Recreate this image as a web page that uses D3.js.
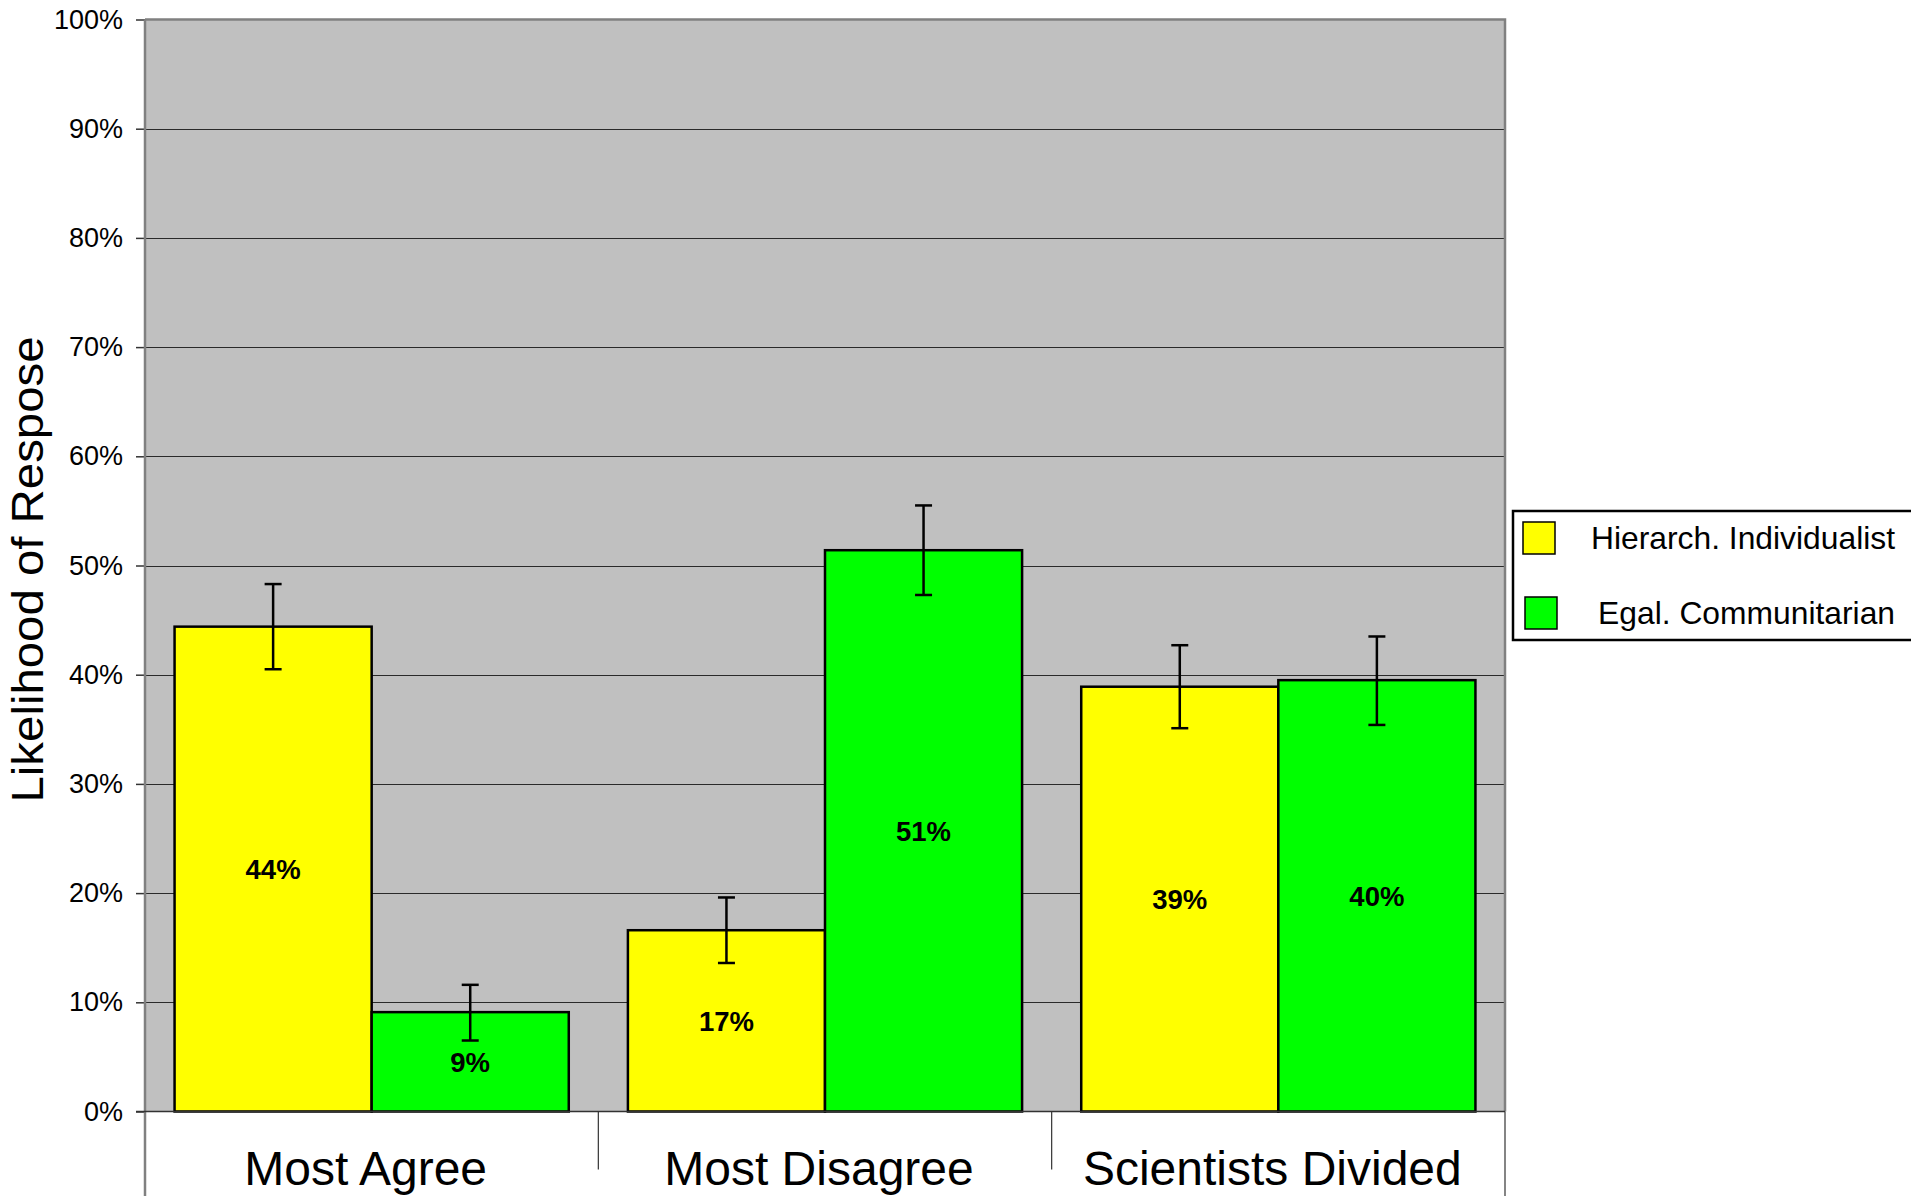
<!DOCTYPE html>
<html>
<head>
<meta charset="utf-8">
<script src="https://cdn.jsdelivr.net/npm/d3@7"></script>
<style>
  html, body { margin: 0; padding: 0; background: #fff; }
  svg { display: block; font-family: "Liberation Sans", Arial, sans-serif; }
</style>
</head>
<body>
<svg id="chart" width="1911" height="1196"></svg>
<script>
// ---- data ----
const categories = ["Most Agree", "Most Disagree", "Scientists Divided"];
const seriesNames = ["Hierarch. Individualist", "Egal. Communitarian"];
const hierValues = [44.4, 16.6, 38.9];
const egalValues = [9.1, 51.4, 39.5];
const hierErrLow = [40.5, 13.6, 35.1];
const hierErrHigh = [48.3, 19.6, 42.7];
const egalErrLow = [6.5, 47.3, 35.4];
const egalErrHigh = [11.6, 55.5, 43.5];
const yTicks = [0, 10, 20, 30, 40, 50, 60, 70, 80, 90, 100];
const seriesColors = ["#FFFF00", "#00FF00"];
const yTitle = "Likelihood of Respose";

// ---- layout ----
const svg = d3.select("#chart");
const plot = { left: 145, right: 1505, top: 19.5, bottom: 1111.5 };

const x0 = d3.scaleBand().domain(categories).range([plot.left, plot.right]).paddingInner(0).paddingOuter(0);
const x1 = d3.scaleBand().domain(seriesNames).range([0, x0.bandwidth()]).paddingInner(0).paddingOuter(0.15);
const y = d3.scaleLinear().domain([0, 100]).range([plot.bottom, plot.top]);

// background
svg.append("rect")
  .attr("x", plot.left).attr("y", plot.top)
  .attr("width", plot.right - plot.left).attr("height", plot.bottom - plot.top)
  .attr("fill", "#C0C0C0");

// gridlines
svg.append("g").selectAll("line").data(yTicks.filter(t => t > 0 && t < 100)).join("line")
  .attr("x1", plot.left).attr("x2", plot.right)
  .attr("y1", d => Math.round(y(d)) + 0.5).attr("y2", d => Math.round(y(d)) + 0.5)
  .attr("stroke", "#2a2a2a").attr("stroke-width", 1.2);

// plot top & right border
svg.append("path")
  .attr("d", `M${plot.left},${plot.top}H${plot.right}V${plot.bottom}`)
  .attr("fill", "none").attr("stroke", "#808080").attr("stroke-width", 2.5);

// data rows
const rows = categories.map((c, i) => ({
  cat: c,
  vals: [
    { s: seriesNames[0], v: hierValues[i], lo: hierErrLow[i], hi: hierErrHigh[i], color: seriesColors[0] },
    { s: seriesNames[1], v: egalValues[i], lo: egalErrLow[i], hi: egalErrHigh[i], color: seriesColors[1] }
  ]
}));

const groups = svg.append("g").selectAll("g").data(rows).join("g")
  .attr("transform", d => `translate(${x0(d.cat)},0)`);

groups.selectAll("rect").data(d => d.vals).join("rect")
  .attr("x", d => x1(d.s))
  .attr("y", d => y(d.v))
  .attr("width", x1.bandwidth())
  .attr("height", d => y(0) - y(d.v))
  .attr("fill", d => d.color)
  .attr("stroke", "#000").attr("stroke-width", 2.5);

// error bars
const capW = 17;
const eb = groups.selectAll("g.err").data(d => d.vals).join("g").attr("class", "err");
eb.append("line")
  .attr("x1", d => x1(d.s) + x1.bandwidth() / 2).attr("x2", d => x1(d.s) + x1.bandwidth() / 2)
  .attr("y1", d => y(d.hi)).attr("y2", d => y(d.lo))
  .attr("stroke", "#000").attr("stroke-width", 2.5);
eb.selectAll("line.cap").data(d => [{ s: d.s, v: d.hi }, { s: d.s, v: d.lo }]).join("line")
  .attr("class", "cap")
  .attr("x1", d => x1(d.s) + x1.bandwidth() / 2 - capW / 2)
  .attr("x2", d => x1(d.s) + x1.bandwidth() / 2 + capW / 2)
  .attr("y1", d => y(d.v)).attr("y2", d => y(d.v))
  .attr("stroke", "#000").attr("stroke-width", 2.5);

// value labels
groups.selectAll("text").data(d => d.vals).join("text")
  .attr("x", d => x1(d.s) + x1.bandwidth() / 2)
  .attr("y", d => (y(d.v) + y(0)) / 2)
  .attr("dy", "0.36em")
  .attr("text-anchor", "middle")
  .attr("font-size", 27.5).attr("font-weight", "bold")
  .attr("fill", "#000")
  .text(d => Math.round(d.v) + "%");

// y axis
const yAxis = d3.axisLeft(y).tickValues(yTicks).tickSize(9).tickPadding(13)
  .tickFormat(d => d + "%");
const gy = svg.append("g").attr("transform", `translate(${plot.left},0)`).call(yAxis);
gy.select(".domain").remove();
gy.selectAll(".tick line").attr("stroke", "#333").attr("stroke-width", 1.5);
gy.selectAll(".tick text").attr("font-size", 27).attr("fill", "#000")
  .attr("font-family", "'Liberation Sans', Arial, sans-serif");
svg.append("line")
  .attr("x1", plot.left).attr("x2", plot.left)
  .attr("y1", plot.top).attr("y2", 1196)
  .attr("stroke", "#808080").attr("stroke-width", 2.5);

// x axis baseline
svg.append("line")
  .attr("x1", plot.left - 9).attr("x2", plot.right)
  .attr("y1", plot.bottom).attr("y2", plot.bottom)
  .attr("stroke", "#333").attr("stroke-width", 1.5);

// x category separators
const bounds = categories.slice(1).map(c => x0(c));
svg.append("g").selectAll("line").data(bounds).join("line")
  .attr("x1", d => d).attr("x2", d => d)
  .attr("y1", plot.bottom).attr("y2", plot.bottom + 58)
  .attr("stroke", "#333").attr("stroke-width", 1.2);
svg.append("line")
  .attr("x1", plot.right).attr("x2", plot.right)
  .attr("y1", plot.bottom).attr("y2", 1196)
  .attr("stroke", "#333").attr("stroke-width", 1.2);

// category labels
svg.append("g").selectAll("text").data(categories).join("text")
  .attr("x", d => x0(d) + x0.bandwidth() / 2 - 6)
  .attr("y", 1185)
  .attr("text-anchor", "middle")
  .attr("font-size", 48)
  .attr("fill", "#000")
  .text(d => d);

// y title
svg.append("text")
  .attr("transform", `translate(43,${(plot.top + plot.bottom) / 2 + 4}) rotate(-90)`)
  .attr("text-anchor", "middle")
  .attr("font-size", 44)
  .attr("textLength", 466).attr("lengthAdjust", "spacingAndGlyphs")
  .attr("fill", "#000")
  .text(yTitle);

// legend
const legend = svg.append("g").attr("transform", "translate(1513,511)");
legend.append("rect")
  .attr("x", 0).attr("y", 0).attr("width", 420).attr("height", 129)
  .attr("fill", "#fff").attr("stroke", "#000").attr("stroke-width", 2.5);
const li = legend.selectAll("g.item").data(seriesNames).join("g").attr("class", "item")
  .attr("transform", (d, i) => `translate(0,${27 + i * 75})`);
li.append("rect")
  .attr("x", (d, i) => 10 + i * 2).attr("y", -16)
  .attr("width", 32).attr("height", 32)
  .attr("fill", (d, i) => seriesColors[i])
  .attr("stroke", "#000").attr("stroke-width", 1.5);
li.append("text")
  .attr("x", 382).attr("y", 0).attr("dy", "0.36em")
  .attr("text-anchor", "end")
  .attr("font-size", 31.8)
  .attr("fill", "#000")
  .text(d => d);
</script>
</body>
</html>
